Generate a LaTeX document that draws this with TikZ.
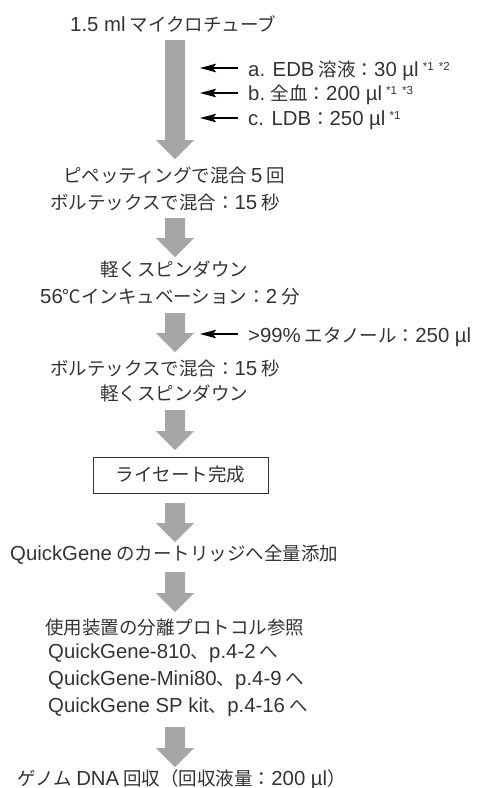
\documentclass[tikz,border=0pt]{standalone}
\usepackage{fontspec}
\setmainfont{Noto Sans CJK JP}
\newfontfamily\latfont{Liberation Sans}[Scale=1.1]
\newcommand\lt[1]{{\latfont #1}}
\usetikzlibrary{arrows.meta}
\definecolor{txt}{HTML}{333333}
\definecolor{arr}{HTML}{A6A6A6}
\newcommand\bigdown[3]{%
  \fill[arr] (#1-10,#2) -- (#1+10,#2) -- (#1+10,#3-19) -- (#1+19,#3-19) -- (#1,#3) -- (#1-19,#3-19) -- (#1-10,#3-19) -- cycle;}
\newcommand\sups[1]{\raisebox{6pt}{\fontsize{10.5}{10.5}\selectfont\latfont #1}}
\begin{document}
\begin{tikzpicture}[x=1pt,y=-1pt,
  tx/.style={anchor=base west,inner sep=0pt,text=txt,font=\fontsize{18.5}{22}\selectfont},
  side/.style={draw=black,line width=1.5pt,-{Stealth[length=16pt,width=8.5pt,inset=3pt]}},
  boxed/.style={draw=txt,line width=0.8pt,inner sep=0pt,minimum width=175pt,minimum height=36pt,text=txt,font=\fontsize{18.5}{22}\selectfont}]
\useasboundingbox (0,0) rectangle (480,788);
\node[tx] (t1) at (70,31) {\lt{1.5 ml} マイクロチューブ};
\node[tx] (sa) at (248,76) {\lt{a. EDB} 溶液：\lt{30 µl} \sups{*1 \,*2}};
\node[tx] (sb) at (248,100) {\lt{b.} 全血：\lt{200 µl} \sups{*1 \,*3}};
\node[tx] (sc) at (248,125) {\lt{c. LDB}：\lt{250 µl} \sups{*1}};
\node[tx] (t2) at (63,182) {ピペッティングで混合 \lt{5} 回};
\node[tx] (t3) at (50,209) {ボルテックスで混合：\lt{15} 秒};
\node[tx] (t4) at (100,276) {軽くスピンダウン};
\node[tx] (t5) at (40,303) {\lt{56}℃インキュベーション：\lt{2} 分};
\node[tx] (se) at (248,342) {\lt{>99\%} エタノール：\lt{250 µl}};
\node[tx] (t6) at (50,375) {ボルテックスで混合：\lt{15} 秒};
\node[tx] (t7) at (100,400) {軽くスピンダウン};
\node[boxed] (lys) at (180.5,475) {ライセート完成};
\node[tx] (t8) at (10,560) {\lt{QuickGene} のカートリッジへ全量添加};
\node[tx] (t9) at (45,634) {使用装置の分離プロトコル参照};
\node[tx] (t10) at (48,658) {\lt{QuickGene-810}、\lt{p.4-2} へ};
\node[tx] (t11) at (48,685) {\lt{QuickGene-Mini80}、\lt{p.4-9} へ};
\node[tx] (t12) at (48,712) {\lt{QuickGene SP kit}、\lt{p.4-16} へ};
\node[tx] (t13) at (17,785) {ゲノム \lt{DNA} 回収（回収液量：\lt{200 µl}）};
% big arrows
\bigdown{175}{40}{159}
\bigdown{175}{218}{257}
\bigdown{175}{313}{352}
\bigdown{175}{410}{450}
\bigdown{175}{503}{542}
\bigdown{175}{572}{612}
\bigdown{175}{727}{767}
% side arrows
\coordinate (ea) at (200,68);
\coordinate (eb) at (200,93);
\coordinate (ec) at (200,118);
\coordinate (ee) at (200,334);
\draw[side] (sa.west |- ea) ++(-10,0) -- (ea);
\draw[side] (sb.west |- eb) ++(-10,0) -- (eb);
\draw[side] (sc.west |- ec) ++(-10,0) -- (ec);
\draw[side] (se.west |- ee) ++(-10,0) -- (ee);
\end{tikzpicture}
\end{document}
